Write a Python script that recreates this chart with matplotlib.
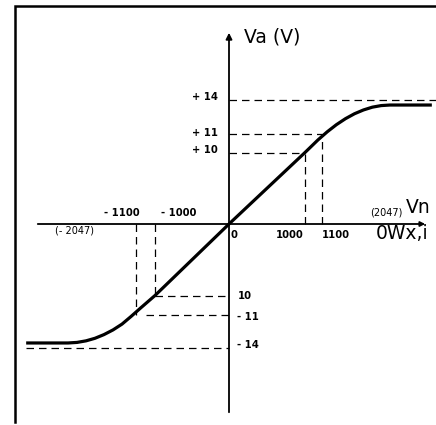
import numpy as np
import matplotlib
matplotlib.use("Agg")
import matplotlib.pyplot as plt

# -------- Data --------
# transfer curve: numeric value -> output voltage Va (V)
curve_x = [-2600, -2095, -1973, -1840, -1707, -1574, -1440, -1307, -1174, -1076, -1000,
           0, 1000, 1076, 1177, 1313, 1448, 1581, 1714, 1846, 1976, 2095, 2600]
curve_y = [-13.55, -13.55, -13.5, -13.36, -13.13, -12.8, -12.38, -11.86, -11.18, -10.66, -10.0,
           0.0, 10.0, 10.66, 11.15, 11.79, 12.33, 12.77, 13.11, 13.36, 13.50, 13.55, 13.55]

code_marks = [1000, 1100]          # +/- numeric values with guide lines
volt_marks = [10, 11]              # matching voltages
v_sat = 14                         # saturation level
code_max = 2047

volt_labels_pos = ["+ 10", "+ 11", "+ 14"]
volt_labels_neg = ["10", "- 11", "- 14"]
code_labels_pos = ["1000", "1100"]
code_labels_neg = ["- 1000", "- 1100"]

# -------- Schematic (non-linear) scales, as drawn --------
xk = np.array([-3000, -2047, -1100, -1000, 0, 1000, 1100, 2047, 3000], float)
xp = np.array([-236, -157, -93, -74, 0, 76, 93, 157, 236], float)
yk = np.array([-30, -14, -11, -10, 0, 10, 11, 14, 30], float)
yp = np.array([-303, -124, -90.5, -71.5, 0, 71.5, 90.5, 124, 303], float)


def xf(v):
    return np.interp(v, xk, xp)


def xi(p):
    return np.interp(p, xp, xk)


def yf(v):
    return np.interp(v, yk, yp)


def yi(p):
    return np.interp(p, yp, yk)


fig = plt.figure(figsize=(4.36, 4.25), dpi=100)
ax = fig.add_axes([0, 0, 1, 1])
ax.set_xscale("function", functions=(xf, xi))
ax.set_yscale("function", functions=(yf, yi))
ax.set_xlim(xi(-229), xi(207))
ax.set_ylim(yi(-201), yi(224))
ax.axis("off")

# frame of the scanned figure
ax.plot([0.034, 0.034, 1.0], [0.007, 0.986, 0.986], transform=ax.transAxes,
        color="black", lw=1.8, solid_joinstyle="miter")

# axes with arrows
ax.annotate("", xy=(0, yi(194)), xytext=(0, yi(-191)),
            arrowprops=dict(arrowstyle="-|>", lw=1.3, color="black", mutation_scale=9))
ax.annotate("", xy=(xi(199), 0), xytext=(xi(-194), 0),
            arrowprops=dict(arrowstyle="-|>", lw=1.3, color="black", mutation_scale=7))

# dashed guide lines
dash = dict(color="black", lw=0.9, ls=(0, (6, 4)))
xmax = ax.get_xlim()[1]
ax.plot([0, xmax], [v_sat, v_sat], **dash)
ax.plot([curve_x[0], 0], [-v_sat, -v_sat], **dash)
for c, v in zip(code_marks, volt_marks):
    ax.plot([0, c], [v, v], **dash)
    ax.plot([c, c], [0, v], **dash)
    ax.plot([-c, -c], [0, -v], **dash)
    ax.plot([-c * 0.95 if c > 1000 else -c, 0], [-v, -v], **dash)

# transfer curve
ax.plot(curve_x, curve_y, color="black", lw=2.3, solid_capstyle="butt",
        solid_joinstyle="round")

# labels
tick = dict(fontsize=7.2, fontweight="bold", color="black")
for lab, v, dy in zip(volt_labels_pos, volt_marks + [v_sat], [1.5, 0.5, 2]):
    ax.annotate(lab, xy=(0, v), xytext=(-8, dy), textcoords="offset points",
                ha="right", va="center", **tick)
for lab, v, dy in zip(volt_labels_neg, [-m for m in volt_marks] + [-v_sat], [-0.5, -2, 2]):
    ax.annotate(lab, xy=(0, v), xytext=(6, dy), textcoords="offset points",
                ha="left", va="center", **tick)
for lab, c, dx in zip(code_labels_pos, code_marks, [-11, 10]):
    ax.annotate(lab, xy=(c, 0), xytext=(dx, -8), textcoords="offset points",
                ha="center", va="center", **tick)
for lab, c, dx in zip(code_labels_neg, code_marks, [17, -10]):
    ax.annotate(lab, xy=(-c, 0), xytext=(dx, 8), textcoords="offset points",
                ha="center", va="center", **tick)
ax.annotate("0", xy=(0, 0), xytext=(1, -8), textcoords="offset points",
            ha="left", va="center", **tick)
ax.annotate("(- %d)" % code_max, xy=(-code_max, 0), xytext=(1.5, -4.5),
            textcoords="offset points", ha="center", va="center", fontsize=7)
ax.annotate("(%d)" % code_max, xy=(code_max, 0), xytext=(0.5, 8),
            textcoords="offset points", ha="center", va="center", fontsize=7)

ax.text(0.56, 0.913, "Va (V)", transform=ax.transAxes, fontsize=13.5,
        ha="left", va="center")
ax.text(0.932, 0.512, "Vn", transform=ax.transAxes, fontsize=13.5,
        ha="left", va="center")
ax.text(0.862, 0.451, "0Wx,i", transform=ax.transAxes, fontsize=13.5,
        ha="left", va="center")

fig.savefig("out.png", dpi=100)
